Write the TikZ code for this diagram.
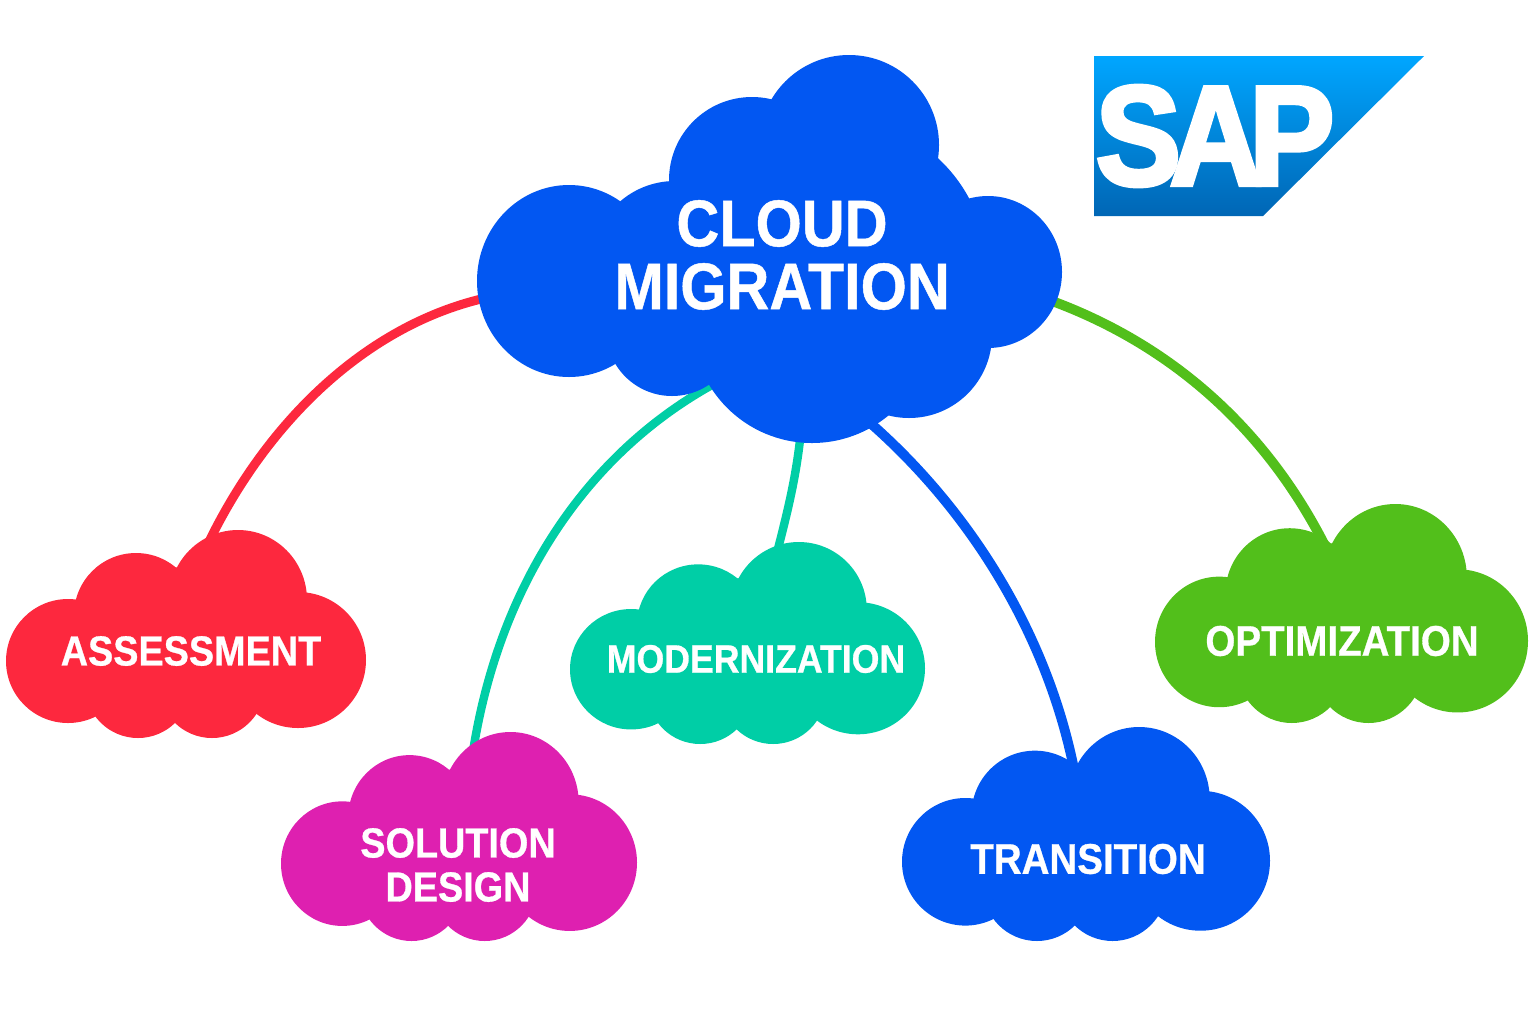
\documentclass[tikz,border=0pt]{standalone}
\usepackage{tikz}
\usepackage{xcolor}
\usepackage{fontspec}
\setmainfont{Liberation Sans}
\newfontfamily\LabelFont[FakeStretch=0.9,FakeBold=0.7]{Liberation Sans}
\newfontfamily\LogoFont[FakeStretch=0.9,FakeBold=3]{Liberation Sans}
\definecolor{cloudblue}{HTML}{0257F2}
\definecolor{assessred}{HTML}{FD283E}
\definecolor{solutionpink}{HTML}{DE20B0}
\definecolor{modernteal}{HTML}{00CEA6}
\definecolor{optimgreen}{HTML}{52BF1B}
\definecolor{logotop}{HTML}{00A6FF}
\definecolor{logobottom}{HTML}{0066B5}
\tikzset{
    linkline/.style={line width=4.9pt},
    cloudlabel/.style={text=white, align=center, font=\LabelFont\bfseries\fontsize{#1}{22}\selectfont},
    cloudlabel/.default=21,
}
% left corner x, top y, width, height, colour
\newcommand*{\SmallCloud}[5]{
    \begin{scope}[shift={(#1,#2)},xscale=#3/360,yscale=#4/208]
        \fill[#5] (62,131) circle (62);
        \fill[#5] (130,85) circle (62);
        \fill[#5] (232,70) ellipse (69 and 70);
        \fill[#5] (292,130) circle (68);
        \fill[#5] (132,155) circle (53);
        \fill[#5] (206,155) circle (53);
        \fill[#5] (185,110) circle (74);
    \end{scope}
}

\begin{document}
\begin{tikzpicture}[x=0.5pt,y=-0.5pt]
    \useasboundingbox (0,0) rectangle (1536,1024);

    \coordinate (cloudW) at (500,295);
    \coordinate (cloudSW) at (725,378);
    \coordinate (cloudS) at (802,420);
    \coordinate (cloudSE) at (855,410);
    \coordinate (cloudE) at (1035,295);
    \coordinate (assessTop) at (205,550);
    \coordinate (solutionTop) at (471,765);
    \coordinate (modernTop) at (774,565);
    \coordinate (transitionTop) at (1077,785);
    \coordinate (optimTop) at (1333,562);

    \draw[linkline, line width=4.5pt, assessred] (cloudW) .. controls (372,318) and (266,420) .. (assessTop);
    \draw[linkline, line width=4.2pt, modernteal] (cloudSW) .. controls (585,450) and (495,590) .. (solutionTop);
    \draw[linkline, line width=4.2pt, modernteal] (cloudS) .. controls (797,480) and (785,520) .. (modernTop);
    \draw[linkline, cloudblue] (cloudSE) .. controls (970,505) and (1052,640) .. (transitionTop);
    \draw[linkline, optimgreen] (cloudE) .. controls (1170,340) and (1272,432) .. (optimTop);

    \fill[cloudblue] (569,281) ellipse (92 and 96);
    \fill[cloudblue] (849,145) circle (90);
    \fill[cloudblue] (752,180) circle (83);
    \fill[cloudblue] (988,272) ellipse (74 and 76);
    \fill[cloudblue] (909,335) circle (83);
    \fill[cloudblue] (812,323) circle (120);
    \fill[cloudblue] (672,330) circle (66);
    \fill[cloudblue] (675,265) circle (84);
    \fill[cloudblue] (835,270) circle (152);
    \node[cloudlabel, font=\LabelFont\bfseries\fontsize{33}{31.5}\selectfont] (migration) at (782,255) {CLOUD\\MIGRATION};

    \SmallCloud{6}{530}{360}{208}{assessred}
    \SmallCloud{281}{732}{356}{209}{solutionpink}
    \SmallCloud{570}{542}{355}{202}{modernteal}
    \SmallCloud{902}{727}{368}{214}{cloudblue}
    \SmallCloud{1155}{504}{373}{219}{optimgreen}
    \node[cloudlabel] (assessment) at (191,651) {ASSESSMENT};
    \node[cloudlabel] (solution) at (458,865) {SOLUTION\\DESIGN};
    \node[cloudlabel=19.8] (modernization) at (756,659) {MODERNIZATION};
    \node[cloudlabel=21.4] (transition) at (1088,859) {TRANSITION};
    \node[cloudlabel=21.4] (optimization) at (1342,641) {OPTIMIZATION};

    \shade[top color=logotop, bottom color=logobottom] (1094,56) -- (1424,56) -- (1263,216) -- (1094,216) -- cycle;
    \node[text=white, inner sep=0pt, font=\LogoFont\bfseries\fontsize{71}{71}\selectfont] (sap) at (1215,136) {S\kern-.08em A\kern-.09em P};
\end{tikzpicture}
\end{document}
